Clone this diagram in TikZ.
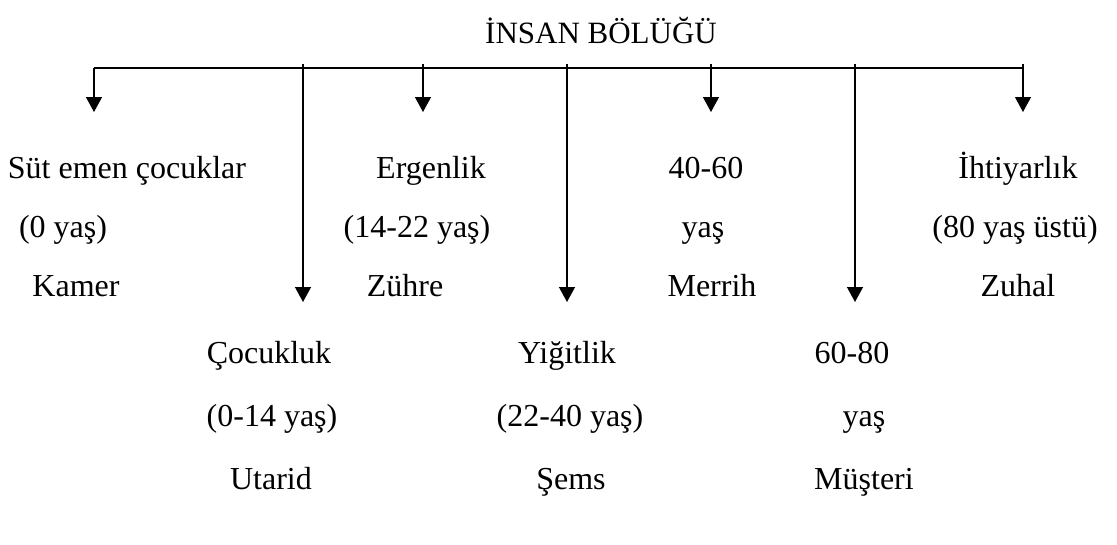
\documentclass[tikz,border=0pt]{standalone}
\usepackage{fontspec}
\setmainfont{Liberation Serif}
\usetikzlibrary{arrows.meta}
\tikzset{
  lbl/.style={anchor=base, inner sep=0pt, font=\fontsize{32}{38}\selectfont},
  ttl/.style={anchor=base, inner sep=0pt, font=\fontsize{31}{37}\selectfont},
  ln/.style={line width=1.3pt},
  arr/.style={ln, -{Triangle[length=15pt,width=16pt]}}
}
\begin{document}
\begin{tikzpicture}[x=1pt,y=-1pt]
\useasboundingbox[fill=white] (0,0) rectangle (1117,544);
% title
\node[ttl] (title) at (601,43) {İNSAN BÖLÜĞÜ};
% bus
\coordinate (b0) at (94,68);
\coordinate (b6) at (1023,68);
\draw[ln] (b0) -- (b6);
% top points
\coordinate (t1) at (303,64);
\coordinate (t2) at (423,64);
\coordinate (t3) at (567,64);
\coordinate (t4) at (711,64);
\coordinate (t5) at (855,64);
\coordinate (t6) at (1023,64);
% tips
\coordinate (e0) at (94,112);
\coordinate (e2) at (423,112);
\coordinate (e4) at (711,112);
\coordinate (e6) at (1023,112);
\coordinate (e1) at (303,302);
\coordinate (e3) at (567,302);
\coordinate (e5) at (855,302);
\draw[arr] (b0) -- (e0);
\draw[arr] (t2) -- (e2);
\draw[arr] (t4) -- (e4);
\draw[arr] (t6) -- (e6);
\draw[arr] (t1) -- (e1);
\draw[arr] (t3) -- (e3);
\draw[arr] (t5) -- (e5);
% row 1
\node[lbl] (a1) at (127,178) {Süt emen çocuklar};
\node[lbl] (c1) at (431,178) {Ergenlik};
\node[lbl] (e1t) at (706,178) {40-60};
\node[lbl] (g1) at (1018,178) {İhtiyarlık};
% row 2
\node[lbl] (a2) at (63,237) {(0 yaş)};
\node[lbl] (c2) at (417,237) {(14-22 yaş)};
\node[lbl] (e2t) at (703,237) {yaş};
\node[lbl] (g2) at (1015,237) {(80 yaş üstü)};
% row 3
\node[lbl] (a3) at (76,296) {Kamer};
\node[lbl] (c3) at (405,296) {Zühre};
\node[lbl] (e3t) at (712,296) {Merrih};
\node[lbl] (g3) at (1018,296) {Zuhal};
% row 4
\node[lbl] (b4) at (269,363) {Çocukluk};
\node[lbl] (d4) at (567,363) {Yiğitlik};
\node[lbl] (f4) at (852,363) {60-80};
% row 5
\node[lbl] (b5) at (272,426) {(0-14 yaş)};
\node[lbl] (d5) at (570,426) {(22-40 yaş)};
\node[lbl] (f5) at (864,426) {yaş};
% row 6
\node[lbl] (b6t) at (271,489) {Utarid};
\node[lbl] (d6) at (571,489) {Şems};
\node[lbl] (f6) at (864,489) {Müşteri};
\end{tikzpicture}
\end{document}
